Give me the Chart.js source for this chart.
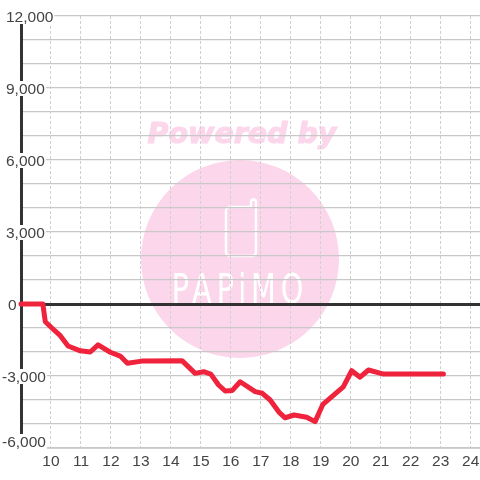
<!DOCTYPE html>
<html>
<head>
<meta charset="utf-8">
<script src="https://cdn.jsdelivr.net/npm/chart.js@4"></script>
<style>
html, body { margin: 0; padding: 0; background: #fff; }
canvas { display: block; }
</style>
</head>
<body>
<canvas id="chart" width="480" height="480"></canvas>
<script>
const hours = [9, 9.73, 9.81, 10.03, 10.31, 10.57, 10.98, 11.31, 11.57, 11.98, 12.31, 12.55, 13.03, 14.37, 14.81, 15.09, 15.33, 15.59, 15.81, 16.05, 16.31, 16.81, 17.05, 17.31, 17.62, 17.81, 18.11, 18.53, 18.81, 19.07, 19.75, 20.03, 20.31, 20.59, 21.09, 23.09];
const balance = [0, 0, -740, -1000, -1320, -1750, -1950, -2000, -1700, -2010, -2170, -2470, -2380, -2360, -2890, -2820, -2920, -3375, -3625, -3600, -3240, -3650, -3720, -4000, -4530, -4740, -4625, -4720, -4900, -4180, -3450, -2780, -3050, -2750, -2920, -2920];
const xTicks = [9, 10, 11, 12, 13, 14, 15, 16, 17, 18, 19, 20, 21, 22, 23, 24];
const yLabelValues = [12000, 9000, 6000, 3000, 0, -3000, -6000];
const yLabels = ['12,000', '9,000', '6,000', '3,000', '0', '-3,000', '-6,000'];

const pink = '#fcd7ec';

// watermark sits under the grid
const watermark = {
    id: 'watermark',
    beforeDraw(chart) {
        const c = chart.ctx;
        c.save();
        c.fillStyle = pink;
        c.strokeStyle = pink;
        c.beginPath();
        c.arc(240, 259, 99, 0, Math.PI * 2);
        c.fill();
        c.font = 'italic bold 28.5px "DejaVu Sans"';
        c.textAlign = 'center';
        c.textBaseline = 'middle';
        c.lineWidth = 1.2;
        c.fillText('Powered by', 242, 136);
        c.strokeText('Powered by', 242, 136);

        // phone outline with the little antenna
        c.strokeStyle = '#fff';
        c.lineWidth = 2.4;
        c.lineJoin = 'round';
        c.beginPath();
        c.moveTo(252, 207);
        c.lineTo(230, 207);
        c.arcTo(226, 207, 226, 211, 4);
        c.lineTo(226, 252);
        c.arcTo(226, 256, 230, 256, 4);
        c.lineTo(252, 256);
        c.arcTo(256, 256, 256, 252, 4);
        c.lineTo(256, 202);
        c.arc(253.5, 202, 2.5, 0, Math.PI, true);
        c.lineTo(251, 207);
        c.stroke();

        c.fillStyle = '#fff';
        c.translate(240, 303);
        c.scale(0.7, 1);
        c.font = '41px "DejaVu Sans"';
        c.letterSpacing = '7px';
        c.textBaseline = 'alphabetic';
        c.fillText('PAPiMO', 0, 0);
        c.restore();
    }
};

// y labels have a white box that cuts the axis and the grid
const yLabelPlugin = {
    id: 'yLabelPlugin',
    beforeDatasetsDraw(chart) {
        const c = chart.ctx;
        const y = chart.scales.y;
        c.save();
        c.font = '15.5px "Liberation Sans"';
        c.textBaseline = 'middle';
        yLabels.forEach((t, i) => {
            // the bottom label is pushed up so it stays above the last grid line
            const py = y.getPixelForValue(yLabelValues[i]) - (i == yLabels.length - 1 ? 7 : 0);
            const left = t[0] == '-' ? 2 : (t == '0' ? 8 : 6);
            const w = c.measureText(t).width;
            c.fillStyle = '#fff';
            c.fillRect(left - 1, py - 7, w + 2, 15);
            c.fillStyle = '#444';
            c.fillText(t, left, py + 1.5);
        });
        c.restore();
    }
};

new Chart(document.getElementById('chart'), {
    type: 'scatter',
    data: {
        datasets: [{
            data: hours.map((h, i) => ({ x: h, y: balance[i] })),
            showLine: true,
            borderColor: '#f0233c',
            borderWidth: 5,
            borderCapStyle: 'round',
            borderJoinStyle: 'round',
            pointRadius: 0,
            tension: 0,
            clip: false
        }]
    },
    options: {
        responsive: false,
        animation: false,
        layout: { padding: { top: 16, left: 0, right: 0, bottom: 0 } },
        plugins: { legend: { display: false }, tooltip: { enabled: false } },
        scales: {
            x: {
                type: 'linear',
                min: 9,
                max: 24.31,
                afterBuildTicks(s) { s.ticks = xTicks.map(v => ({ value: v })); },
                afterFit(s) { s.height = 32; s.paddingRight = 0; s.paddingLeft = 0; },
                grid: { color: '#d0d0d0', lineWidth: 1, tickLength: 0 },
                border: { display: true, color: '#d0d0d0', dash: [3, 2], width: 1 },
                ticks: {
                    autoSkip: false,
                    maxRotation: 0,
                    padding: 4,
                    color: '#444',
                    font: { family: '"Liberation Sans"', size: 15.5 },
                    callback: v => v == 9 ? '' : String(v)
                }
            },
            y: {
                min: -6000,
                max: 12000,
                afterFit(s) { s.width = 21; },
                grid: {
                    color: ctx => ctx.tick.value == 0 ? '#333333' : '#c8c8c8',
                    lineWidth: ctx => ctx.tick.value == 0 ? 3 : 1.2,
                    tickLength: 0
                },
                border: { color: '#333333', width: 3 },
                ticks: { stepSize: 1000, display: true, color: 'rgba(0,0,0,0)', font: { size: 1 }, padding: 0 }
            }
        }
    },
    plugins: [watermark, yLabelPlugin]
});
</script>
</body>
</html>
